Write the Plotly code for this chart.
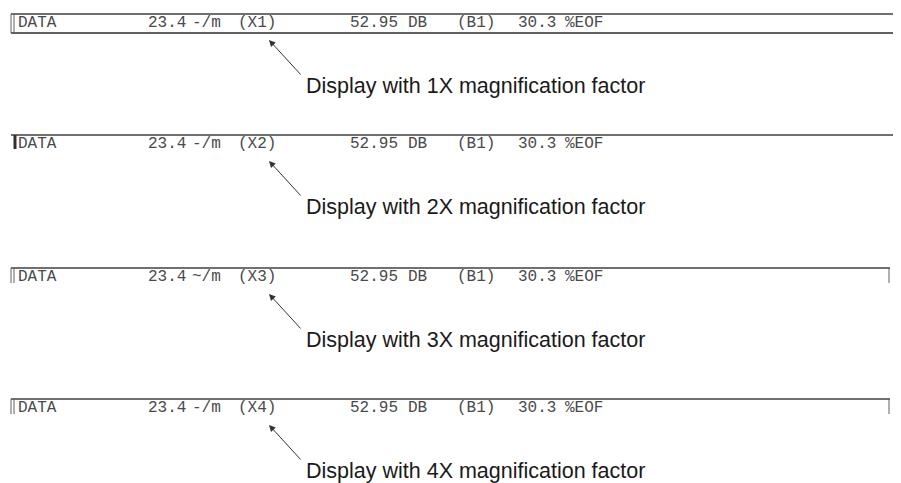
import plotly.graph_objects as go

# ---- data ----
factors = [1, 2, 3, 4]
row_label = "DATA"
distance_vals = ["23.4", "23.4", "23.4", "23.4"]
distance_units = ["-/m", "-/m", "~/m", "-/m"]
gain_vals = ["52.95", "52.95", "52.95", "52.95"]
gain_units = ["DB", "DB", "DB", "DB"]
gain_tags = ["(B1)", "(B1)", "(B1)", "(B1)"]
eof_vals = ["30.3", "30.3", "30.3", "30.3"]
eof_units = ["%EOF", "%EOF", "%EOF", "%EOF"]

# ---- layout constants (page pixels) ----
PAGE_W, PAGE_H = 901, 483
OFF = 8  # default body margin of the html page
row_top = [14, 135, 268, 399]
MONO = dict(family="Liberation Mono, Courier New, monospace", size=16, color="#4a4a4a")
CAP = dict(family="Liberation Sans, Arial, sans-serif", size=21.5, color="#1a1a1a")

fig = go.Figure()
shapes = []
annotations = []

tok_x = [16, 146, 190, 236, 348, 406, 455, 516, 563]

def line(x0, y0, x1, y1, color, width):
    return dict(type="line", x0=x0, x1=x1, y0=y0, y1=y1,
                line=dict(color=color, width=width), xref="x", yref="y")

for i, f in enumerate(factors):
    top = row_top[i]
    ty = top + 9
    tokens = [row_label, distance_vals[i], distance_units[i], f"(X{f})",
              gain_vals[i], gain_units[i], gain_tags[i], eof_vals[i], eof_units[i]]
    for x, t in zip(tok_x, tokens):
        annotations.append(dict(x=x, y=ty, text=t, showarrow=False, xanchor="left",
                                yanchor="middle", font=MONO, xref="x", yref="y"))
    shapes.append(line(11, top, 898 if i < 2 else 890, top, "#707070", 2))
    if i == 0:
        shapes.append(line(11, top + 19, 898, top + 19, "#606060", 2))
        shapes.append(line(898, top, 898, top + 19, "#404040", 2))
        shapes.append(line(11, top, 11, top + 19, "#606060", 1))
        shapes.append(line(14, top, 14, top + 19, "#606060", 1))
    elif i == 1:
        shapes.append(line(15, top, 15, top + 14, "#303030", 3))
    else:
        shapes.append(line(11, top, 11, top + 15, "#606060", 1))
        shapes.append(line(14, top, 14, top + 15, "#606060", 1))
        shapes.append(line(889, top, 889, top + 15, "#606060", 1))
    annotations.append(dict(x=269, y=top + 26, ax=302, ay=top + 62, xref="x", yref="y",
                            axref="x", ayref="y", text="", showarrow=True,
                            arrowhead=2, arrowsize=1.3, arrowwidth=1,
                            arrowcolor="#333333"))
    annotations.append(dict(x=304, y=top + 72, text=f"Display with {f}X magnification factor",
                            showarrow=False, xanchor="left", yanchor="middle", font=CAP,
                            xref="x", yref="y"))

fig.update_layout(
    width=PAGE_W - OFF, height=PAGE_H - OFF,
    margin=dict(l=0, r=0, t=0, b=0),
    paper_bgcolor="white", plot_bgcolor="white",
    xaxis=dict(range=[OFF, PAGE_W], visible=False, fixedrange=True),
    yaxis=dict(range=[PAGE_H, OFF], visible=False, fixedrange=True),
    shapes=shapes, annotations=annotations, showlegend=False,
)
fig.write_html("out.html")
